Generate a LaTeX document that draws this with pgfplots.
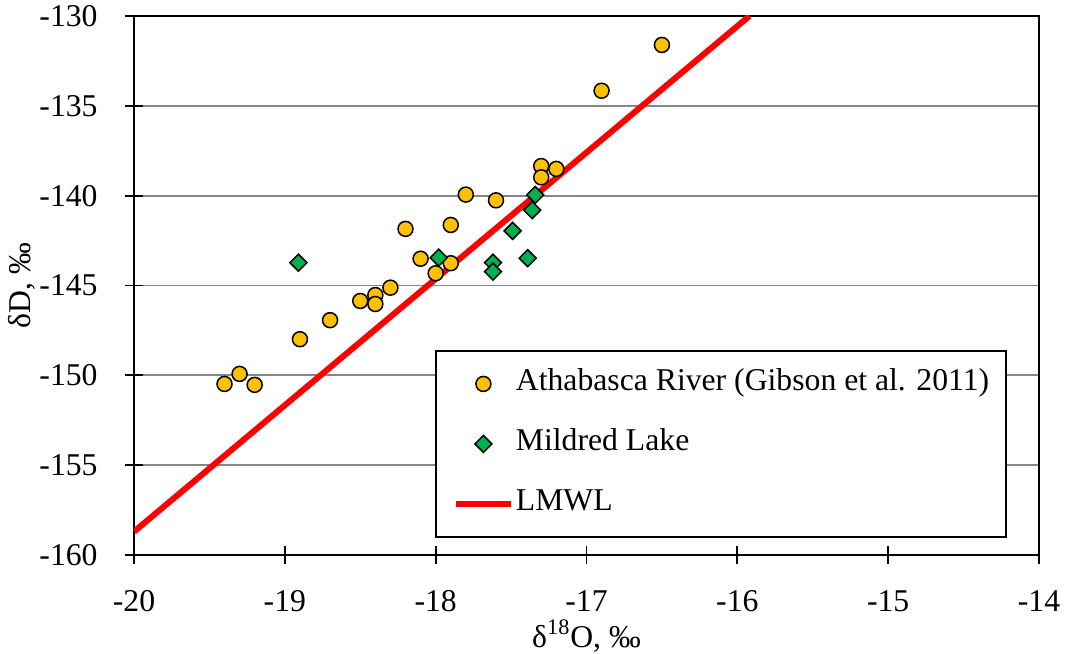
\documentclass[border=0pt]{standalone}
\usepackage{fontspec}
\setmainfont{Liberation Serif}
\usepackage{pgfplots}
\pgfplotsset{compat=1.18}
\newcommand\cf{\fontsize{15.85}{19}\selectfont}
\definecolor{circfill}{HTML}{FFC000}
\definecolor{diafill}{HTML}{00B050}
\definecolor{gridgray}{HTML}{868686}

\pgfplotstableread{
x y
-19.40 -150.48
-19.30 -149.92
-19.20 -150.53
-18.90 -147.99
-18.70 -146.93
-18.50 -145.86
-18.40 -145.53
-18.40 -146.03
-18.30 -145.12
-18.20 -141.85
-18.10 -143.51
-18.00 -144.32
-17.90 -143.76
-17.90 -141.63
-17.80 -139.94
-17.60 -140.26
-17.30 -138.35
-17.20 -138.51
-17.30 -138.98
-16.90 -134.16
-16.50 -131.61
}\athabasca

\pgfplotstableread{
x y
-18.91 -143.73
-17.98 -143.45
-17.62 -143.73
-17.62 -144.23
-17.49 -141.96
-17.39 -143.48
-17.36 -140.80
-17.34 -139.96
}\mildred

\pgfplotstableread{
x y
-20.00 -158.70
-15.92 -130.00
}\lmwl

\begin{document}
\begin{tikzpicture}
\useasboundingbox (-67pt,-49pt) rectangle (465.5pt,277.5pt);
\begin{axis}[
  scale only axis,
  width=452.5pt, height=269.5pt,
  xmin=-20, xmax=-14, ymin=-160, ymax=-130,
  xtick={-20,-19,...,-14},
  ytick={-160,-155,...,-130},
  axis line style={black, line width=0.9pt},
  tick style={black, line width=0.9pt},
  tick align=center,
  major tick length=9pt,
  xtick pos=bottom, ytick pos=left,
  ymajorgrids,
  grid style={gridgray, line width=0.9pt},
  /pgf/number format/assume math mode=true,
  xticklabel style={font=\cf, anchor=center, inner sep=0pt, yshift=-18.5pt},
  yticklabel style={font=\cf, anchor=east, inner sep=0pt, xshift=-13.5pt},
  every axis x label/.style={at={(axis description cs:0.5,0)}, anchor=center, yshift=-40.5pt, font=\cf},
  every axis y label/.style={at={(axis description cs:0,0.5)}, anchor=center, xshift=-56pt, rotate=90, font=\cf},
  xlabel={δ\textsuperscript{18}O, ‰},
  ylabel={δD, ‰},
  legend cell align=left,
  legend image code/.code={%
    \draw[mark repeat=2,mark phase=2]
    plot coordinates {(0pt,0pt) (13.75pt,0pt) (27.5pt,0pt)};%
  },
  legend style={
    at={(axis description cs:0.3326,0.3803)}, anchor=north west,
    draw=black, line width=0.9pt,
    font=\cf,
    inner xsep=8.5pt, inner ysep=9pt,
    row sep=15pt, column sep=1pt,
    nodes={inner sep=0pt, text height=11pt, text depth=4pt},
  },
]
\addplot[red, line width=3pt, forget plot] table[x=x,y=y] {\lmwl};
\addplot[only marks, mark=*, mark size=3.75pt,
  mark options={fill=circfill, draw=black, line width=0.75pt}]
  table[x=x,y=y] {\athabasca};
\addlegendentry{Athabasca River (Gibson et al. 2011)}
\addplot[only marks, mark=square*, mark size=3pt,
  mark options={fill=diafill, draw=black, line width=0.75pt, rotate=45}]
  table[x=x,y=y] {\mildred};
\addlegendentry{Mildred Lake}
\addlegendimage{red, line width=3pt}
\addlegendentry{LMWL}
\end{axis}
\end{tikzpicture}
\end{document}
